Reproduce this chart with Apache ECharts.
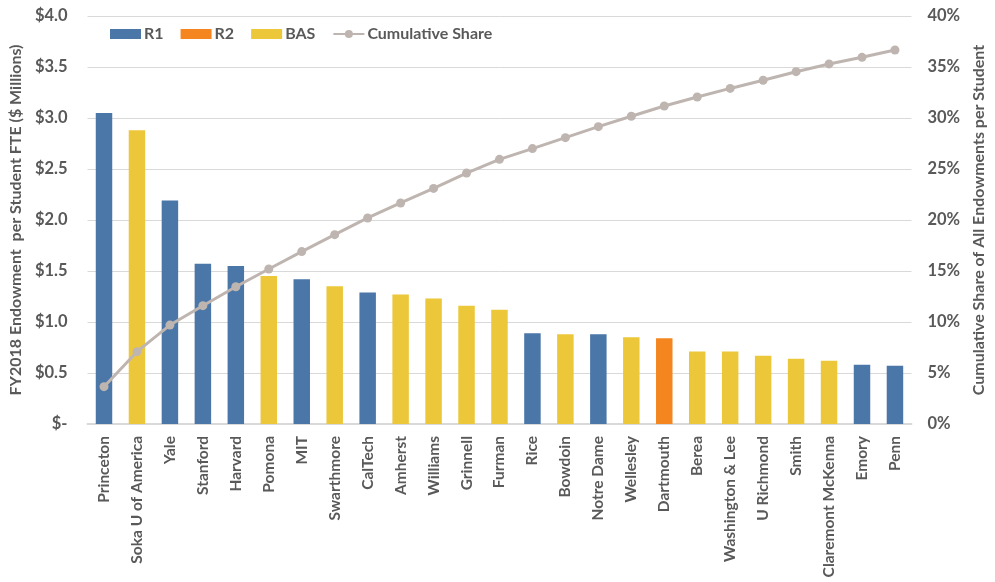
<!DOCTYPE html>
<html>
<head>
<meta charset="utf-8">
<script src="https://cdn.jsdelivr.net/npm/echarts@6/dist/echarts.min.js"></script>
<style>html,body{margin:0;padding:0;background:#fff}#c{width:995px;height:582px}</style>
</head>
<body>
<div id="c"></div>
<script>
const categories = ["Princeton","Soka U of America","Yale","Stanford","Harvard","Pomona","MIT","Swarthmore","CalTech","Amherst","Williams","Grinnell","Furman","Rice","Bowdoin","Notre Dame","Wellesley","Dartmouth","Berea","Washington & Lee","U Richmond","Smith","Claremont McKenna","Emory","Penn"];
const groups = ["R1","BAS","R1","R1","R1","BAS","R1","BAS","R1","BAS","BAS","BAS","BAS","R1","BAS","R1","BAS","R2","BAS","BAS","BAS","BAS","BAS","R1","R1"];
const endowment = [3.05,2.88,2.19,1.57,1.55,1.45,1.42,1.35,1.29,1.27,1.23,1.16,1.12,0.89,0.88,0.88,0.85,0.84,0.71,0.71,0.67,0.64,0.62,0.58,0.57];
const cumulativeShare = [3.66,7.09,9.7,11.6,13.46,15.2,16.9,18.56,20.2,21.67,23.1,24.6,25.95,27.0,28.07,29.15,30.17,31.18,32.06,32.9,33.7,34.54,35.3,35.95,36.67];
const leftTicks = {min:0, max:4, interval:0.5};
const rightTicks = {min:0, max:40, interval:5};

const colors = {R1:'#4A76A8', R2:'#F5861F', BAS:'#ECC73A'};
const font = 'Lato, "Open Sans", sans-serif';
const txt = '#595959';

function groupSeries(g){
  return {
    name: g, type: 'bar', stack: 'a', barWidth: '50%',
    itemStyle: {color: colors[g]},
    data: endowment.map((v,i)=> groups[i]===g ? v : null)
  };
}

const chart = echarts.init(document.getElementById('c'));
chart.setOption({
  animation: false,
  textStyle: {fontFamily: font},
  grid: {left: 84, right: 73, top: 16, bottom: 158},
  legend: {
    top: 21, left: 105, itemWidth: 31, itemHeight: 10, itemGap: 17,
    textStyle: {fontFamily: font, fontWeight: 'bold', fontSize: 16, color: txt, padding: [0,0,0,-2]},
    data: [
      {name:'R1', icon:'rect'},
      {name:'R2', icon:'rect'},
      {name:'BAS', icon:'rect'},
      {name:'Cumulative Share'}
    ]
  },
  xAxis: {
    type: 'category', data: categories,
    axisLine: {lineStyle: {color: '#D9D9D9', width: 2}},
    axisTick: {show: false},
    axisLabel: {rotate: 90, interval: 0, margin: 12, fontFamily: font, fontWeight: 'bold', fontSize: 15.5, color: txt}
  },
  yAxis: [
    {
      type: 'value', min: leftTicks.min, max: leftTicks.max, interval: leftTicks.interval,
      name: 'FY2018 Endowment  per Student FTE ($ Millions)',
      nameLocation: 'middle', nameGap: 58, nameRotate: 90,
      nameTextStyle: {fontFamily: font, fontWeight: 'bold', fontSize: 16, color: txt},
      axisLine: {show: false}, axisTick: {show: false},
      splitLine: {lineStyle: {color: '#D9D9D9', width: 1}},
      axisLabel: {
        margin: 20, fontFamily: font, fontWeight: 'bold', fontSize: 16.5, color: txt,
        formatter: v => v === 0 ? '$-' : '$' + v.toFixed(1)
      }
    },
    {
      type: 'value', min: rightTicks.min, max: rightTicks.max, interval: rightTicks.interval,
      name: 'Cumulative Share of All Endowments per Student',
      nameLocation: 'middle', nameGap: 56, nameRotate: 90,
      nameTextStyle: {fontFamily: font, fontWeight: 'bold', fontSize: 16, color: txt},
      axisLine: {show: false}, axisTick: {show: false},
      splitLine: {show: false},
      axisLabel: {margin: 16, fontFamily: font, fontWeight: 'bold', fontSize: 16.5, color: txt, formatter: v => v + '%'}
    }
  ],
  series: [
    groupSeries('R1'),
    groupSeries('R2'),
    groupSeries('BAS'),
    {
      name: 'Cumulative Share', type: 'line', yAxisIndex: 1,
      data: cumulativeShare, symbol: 'circle', symbolSize: 9,
      lineStyle: {color: '#BFB5B0', width: 3},
      itemStyle: {color: '#BFB5B0'}
    }
  ]
});
</script>
</body>
</html>
